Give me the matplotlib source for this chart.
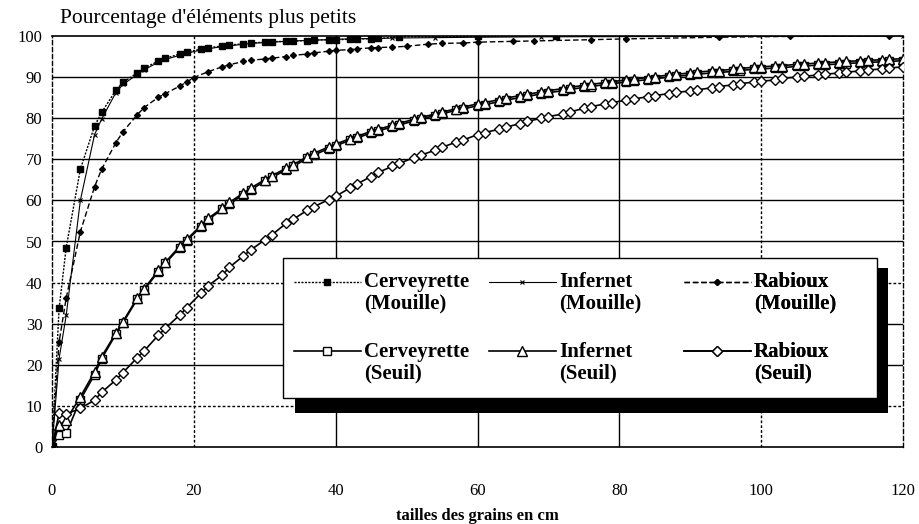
import numpy as np
import matplotlib
matplotlib.use("Agg")
import matplotlib.pyplot as plt
from matplotlib.patches import Rectangle
from matplotlib.legend_handler import HandlerLine2D

# ---- data: cumulative grain-size curves (% finer than size, size in cm) ----
seuil_x = [0, 1, 2, 4, 6, 7, 9, 10, 12, 13, 15, 16, 18, 19, 21, 22, 24, 25, 27, 28,
           30, 31, 33, 34, 36, 37, 39, 40, 42, 43, 45, 46, 48, 49, 51, 52, 54, 55, 57, 58,
           60, 61, 63, 64, 66, 67, 69, 70, 72, 73, 75, 76, 78, 79, 81, 82, 84, 85, 87, 88,
           90, 91, 93, 94, 96, 97, 99, 100, 102, 103, 105, 106, 108, 109, 111, 112, 114, 115,
           117, 118, 120]

cerveyrette_seuil = [0, 2.8, 3.3, 11.5, 17.6, 21.5, 27.4, 30.2, 35.9, 38.2, 42.7, 44.7, 48.5, 50.2,
                     53.6, 55.3, 57.8, 59.1, 61.4, 62.6, 64.6, 65.6, 67.4, 68.3, 70.2, 71.1, 72.6,
                     73.3, 74.6, 75.2, 76.4, 76.9, 77.9, 78.4, 79.3, 79.8, 80.6, 81.1, 81.9, 82.3,
                     83.0, 83.3, 84.0, 84.4, 85.0, 85.3, 85.9, 86.2, 86.7, 87.0, 87.5, 87.7, 88.2,
                     88.4, 88.8, 89.0, 89.4, 89.6, 90.0, 90.2, 90.5, 90.7, 91.0, 91.1, 91.4, 91.6,
                     91.9, 92.0, 92.2, 92.3, 92.6, 92.7, 92.9, 93.0, 93.2, 93.3, 93.5, 93.6, 93.7,
                     93.8, 94.0]

infernet_seuil = [0, 5.3, 6.6, 12.2, 18.3, 22.0, 27.7, 30.5, 36.2, 38.5, 43.0, 45.0, 48.8, 50.5,
                  53.9, 55.6, 58.1, 59.5, 61.8, 63.0, 65.0, 66.0, 67.8, 68.7, 70.6, 71.5, 73.0,
                  73.7, 75.0, 75.6, 76.8, 77.3, 78.3, 78.8, 79.7, 80.2, 81.0, 81.5, 82.3, 82.7,
                  83.5, 83.8, 84.5, 84.9, 85.5, 85.8, 86.4, 86.7, 87.2, 87.5, 88.0, 88.2, 88.7,
                  88.9, 89.3, 89.5, 89.9, 90.1, 90.5, 90.7, 91.0, 91.2, 91.5, 91.6, 91.9, 92.1,
                  92.4, 92.5, 92.7, 92.8, 93.1, 93.2, 93.4, 93.5, 93.7, 93.8, 94.0, 94.1, 94.2,
                  94.3, 94.5]

rabioux_seuil = [0, 8.2, 8.0, 9.4, 11.4, 13.3, 16.3, 18.1, 21.7, 23.4, 27.2, 28.9, 32.1, 33.9,
                 37.4, 39.2, 41.8, 43.7, 46.5, 47.9, 50.4, 51.6, 54.4, 55.4, 57.6, 58.5, 60.2,
                 61.0, 63.0, 64.0, 65.8, 66.8, 68.3, 69.0, 70.4, 71.0, 72.2, 72.9, 74.2, 74.7,
                 76.0, 76.5, 77.3, 77.8, 78.7, 79.2, 80.0, 80.4, 81.0, 81.5, 82.4, 82.8, 83.5,
                 83.8, 84.4, 84.7, 85.2, 85.5, 86.0, 86.3, 86.6, 86.9, 87.4, 87.7, 88.1, 88.4,
                 88.8, 89.0, 89.3, 89.7, 90.0, 90.2, 90.5, 90.7, 91.0, 91.2, 91.5, 91.7, 92.0,
                 92.2, 92.5]

cerveyrette_mouille_x = [0, 1, 2, 4, 6, 7, 9, 10, 12, 13, 15, 16, 18, 19, 21, 22, 24, 25, 27, 28,
                         30, 31, 33, 34, 36, 37, 39, 40, 42, 43, 45, 46, 49, 60, 71]
cerveyrette_mouille = [0, 33.7, 48.5, 67.6, 78.1, 81.4, 86.8, 88.7, 91.0, 92.2, 93.9, 94.6, 95.6,
                       96.1, 96.8, 97.1, 97.6, 97.8, 98.1, 98.3, 98.5, 98.6, 98.7, 98.8, 98.9,
                       99.0, 99.1, 99.1, 99.2, 99.3, 99.3, 99.4, 99.8, 99.9, 100]

infernet_mouille_x = [0, 1, 2, 4, 6, 7, 9, 10, 12, 13, 15, 16, 18, 19, 21, 22, 24, 25, 27, 28,
                      30, 31, 33, 34, 36, 37, 39, 40, 42, 43, 45, 46, 48, 54, 60, 69, 120]
infernet_mouille = [0, 21.5, 32.0, 60.0, 76.0, 79.8, 86.2, 88.2, 90.6, 91.8, 93.6, 94.3, 95.3,
                    95.8, 96.6, 96.9, 97.4, 97.6, 98.0, 98.2, 98.4, 98.5, 98.7, 98.8, 98.9,
                    99.0, 99.1, 99.2, 99.3, 99.3, 99.4, 99.4, 99.5, 99.6, 99.7, 99.8, 100]

rabioux_mouille_x = [0, 1, 2, 4, 6, 7, 9, 10, 12, 13, 15, 16, 18, 19, 20, 22, 24, 25, 27, 28,
                     30, 31, 33, 34, 36, 37, 39, 40, 42, 43, 45, 46, 48, 50, 53, 55, 58, 60,
                     65, 68, 76, 81, 94, 104, 118]
rabioux_mouille = [0, 25.6, 36.2, 52.4, 63.3, 67.6, 74.0, 76.7, 80.8, 82.6, 85.1, 86.0, 87.8,
                   88.8, 89.9, 91.3, 92.5, 93.0, 93.8, 94.1, 94.4, 94.6, 95.0, 95.3, 95.6, 95.9,
                   96.3, 96.5, 96.7, 96.9, 97.1, 97.2, 97.3, 97.5, 98.0, 98.2, 98.3, 98.5, 98.7,
                   98.8, 99.1, 99.3, 99.7, 99.9, 100]

x_ticks = [0, 20, 40, 60, 80, 100, 120]
y_ticks = [0, 10, 20, 30, 40, 50, 60, 70, 80, 90, 100]
y_title = "Pourcentage d'éléments plus petits"
x_title = "tailles des grains en cm"

SERIF = ["Liberation Serif", "DejaVu Serif"]
plt.rcParams["font.family"] = SERIF

W, H = 919, 524
fig = plt.figure(figsize=(W / 100, H / 100), dpi=100)
ax = fig.add_axes([52 / W, 77 / H, 851 / W, 411 / H])
ax.set_xlim(0, 120)
ax.set_ylim(0, 100)

# grid: the printed chart mixes solid and dotted rules
dotted = (0, (2, 1.5))
h_style = {10: dotted, 20: "-", 30: "-", 40: dotted, 50: "-", 60: "-", 70: "-", 80: "-", 90: "-"}
for yv, ls in h_style.items():
    ax.axhline(yv, color="black", lw=1.0, ls=ls, zorder=1)
v_style = {20: dotted, 40: "-", 60: "-", 80: "-", 100: dotted}
for xv, ls in v_style.items():
    ax.axvline(xv, color="black", lw=1.0, ls=ls, zorder=1)

for side in ("top", "bottom"):
    ax.spines[side].set_linewidth(1.2)
for side in ("left", "right"):
    ax.spines[side].set_linestyle((0, (3, 2)))
    ax.spines[side].set_linewidth(1.0)

ax.set_xticks(x_ticks)
ax.set_yticks(y_ticks)
ax.tick_params(axis="both", length=0, labelsize=12)
ax.tick_params(axis="x", pad=26)
ax.tick_params(axis="y", pad=7)

# ---- curves ----
l_cm, = ax.plot(cerveyrette_mouille_x, cerveyrette_mouille, color="black", lw=1.0,
                ls=(0, (1.5, 1)), marker="s", ms=5, mfc="black", mec="black", zorder=4)
l_im, = ax.plot(infernet_mouille_x, infernet_mouille, color="black", lw=0.8,
                ls="-", marker="x", ms=3, mew=0.8, zorder=4)
l_rm, = ax.plot(rabioux_mouille_x, rabioux_mouille, color="black", lw=1.0,
                ls=(0, (4, 2)), marker="D", ms=3, mfc="black", mec="black", zorder=4)
l_cs, = ax.plot(seuil_x, cerveyrette_seuil, color="black", lw=1.2, ls="-",
                marker="s", ms=6, mfc="white", mec="black", mew=1.0, zorder=3)
l_is, = ax.plot(seuil_x, infernet_seuil, color="black", lw=1.2, ls="-",
                marker="^", ms=6.5, mfc="white", mec="black", mew=1.0, zorder=3)
l_rs, = ax.plot(seuil_x, rabioux_seuil, color="black", lw=1.2, ls="-",
                marker="D", ms=5, mfc="white", mec="black", mew=1.0, zorder=3)

# ---- legend panel with a hard black drop shadow ----
ax.add_patch(Rectangle((0.2855, 0.0827), 0.697, 0.353, transform=ax.transAxes,
                       facecolor="black", edgecolor="none", zorder=8))
ax.add_patch(Rectangle((0.2714, 0.1192), 0.698, 0.3407, transform=ax.transAxes,
                       facecolor="white", edgecolor="black", lw=1.0, zorder=9))


class FirstLineHandler(HandlerLine2D):
    """Line handle lifted so it sits beside the first line of a two-line label."""

    def __init__(self, lift, **kw):
        super().__init__(**kw)
        self.lift = lift

    def create_artists(self, legend, orig_handle, xdescent, ydescent, width, height,
                       fontsize, trans):
        arts = super().create_artists(legend, orig_handle, xdescent, ydescent, width,
                                      height, fontsize, trans)
        for a in arts:
            a.set_ydata(np.asarray(a.get_ydata(), dtype=float) + self.lift * fontsize)
        return arts


columns = [
    ("Cerveyrette", l_cm, l_cs, 0.2844),
    ("Infernet", l_im, l_is, 0.5135),
    ("Rabioux", l_rm, l_rs, 0.7427),
]
leg_font = {"family": SERIF, "weight": "bold", "size": 15}
for name, h_m, h_s, x0 in columns:
    leg = ax.legend([h_m, h_s], [f"{name}\n(Mouille)", f"{name}\n(Seuil)"],
                    loc="upper left", bbox_to_anchor=(x0, 0.425),
                    bbox_transform=ax.transAxes, frameon=False, prop=leg_font,
                    handlelength=3.2, handletextpad=0.15, labelspacing=1.35,
                    borderpad=0, borderaxespad=0, numpoints=1,
                    handler_map={h_m: FirstLineHandler(0.56), h_s: FirstLineHandler(0.56)})
    for t in leg.get_texts():
        t.set_linespacing(1.1)
    leg.set_zorder(10)
    ax.add_artist(leg)

fig.text(60 / W, 1 - 18 / H, y_title, ha="left", va="center", fontsize=15.5, family=SERIF)
fig.text(477.5 / W, 1 - 516 / H, x_title, ha="center", va="center", fontsize=12,
         fontweight="bold", family=SERIF)

fig.savefig("out.png", dpi=100)
